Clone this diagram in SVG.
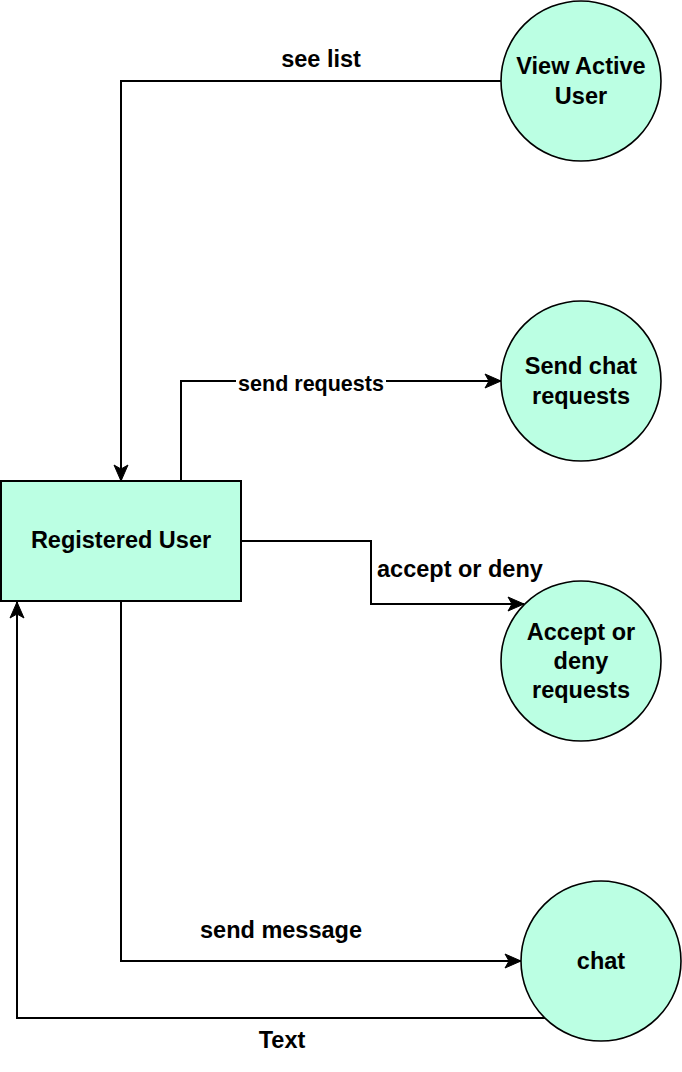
<svg xmlns="http://www.w3.org/2000/svg" width="682" height="1072" viewBox="0 0 682 1072">
<style>
  .node { fill: #bbffe3; stroke: #000; }
  .rect { stroke-width: 2; }
  .circ { stroke-width: 1.6; }
  .t { font-family: "Liberation Sans", Arial, Helvetica, sans-serif; font-weight: bold; fill: #000; }
  .nt { font-size: 23.5px; text-anchor: middle; }
  .lbl { font-size: 23.5px; }
  .edge { fill: none; stroke: #000; stroke-width: 2; }
</style>
<defs>
  <marker id="arr" markerUnits="userSpaceOnUse" markerWidth="18" markerHeight="16" refX="17" refY="8" orient="auto">
    <path d="M1,1 L17,8 L1,15 L5,8 Z" fill="#000" stroke="#000" stroke-width="1"/>
  </marker>
</defs>

<g id="connectors">
  <g id="e-see-list">
    <path class="edge" d="M501,81 H121 V481" marker-end="url(#arr)"/>
    <text class="t lbl" x="321" y="67" text-anchor="middle">see list</text>
  </g>
  <g id="e-send-requests">
    <path class="edge" d="M181,481 V381 H501" marker-end="url(#arr)"/>
    <rect x="236" y="372" width="150" height="22" fill="#fff"/>
    <text class="t" x="311" y="391" text-anchor="middle" font-size="21.5">send requests</text>
  </g>
  <g id="e-accept">
    <path class="edge" d="M241,541 H371 V604 H524" marker-end="url(#arr)"/>
    <text class="t lbl" x="377" y="577">accept or deny</text>
  </g>
  <g id="e-send-message">
    <path class="edge" d="M121,601 V961 H521" marker-end="url(#arr)"/>
    <text class="t lbl" x="281" y="938" text-anchor="middle">send message</text>
  </g>
  <g id="e-text">
    <path class="edge" d="M545,1018 H17 V602" marker-end="url(#arr)"/>
    <text class="t lbl" x="282" y="1048" text-anchor="middle">Text</text>
  </g>
</g>

<g id="registered-user">
  <rect class="node rect" x="1" y="481" width="240" height="120"/>
  <text class="t nt" x="121" y="548">Registered User</text>
</g>

<g id="view-active-user">
  <circle class="node circ" cx="581" cy="81" r="80"/>
  <text class="t nt" x="581" y="74">View Active</text>
  <text class="t nt" x="581" y="104">User</text>
</g>

<g id="send-chat-requests">
  <circle class="node circ" cx="581" cy="381" r="80"/>
  <text class="t nt" x="581" y="374">Send chat</text>
  <text class="t nt" x="581" y="404">requests</text>
</g>

<g id="accept-deny-requests">
  <circle class="node circ" cx="581" cy="661" r="80"/>
  <text class="t nt" x="581" y="640">Accept or</text>
  <text class="t nt" x="581" y="669">deny</text>
  <text class="t nt" x="581" y="698">requests</text>
</g>

<g id="chat">
  <circle class="node circ" cx="601" cy="961" r="80"/>
  <text class="t nt" x="601" y="969">chat</text>
</g>
</svg>
